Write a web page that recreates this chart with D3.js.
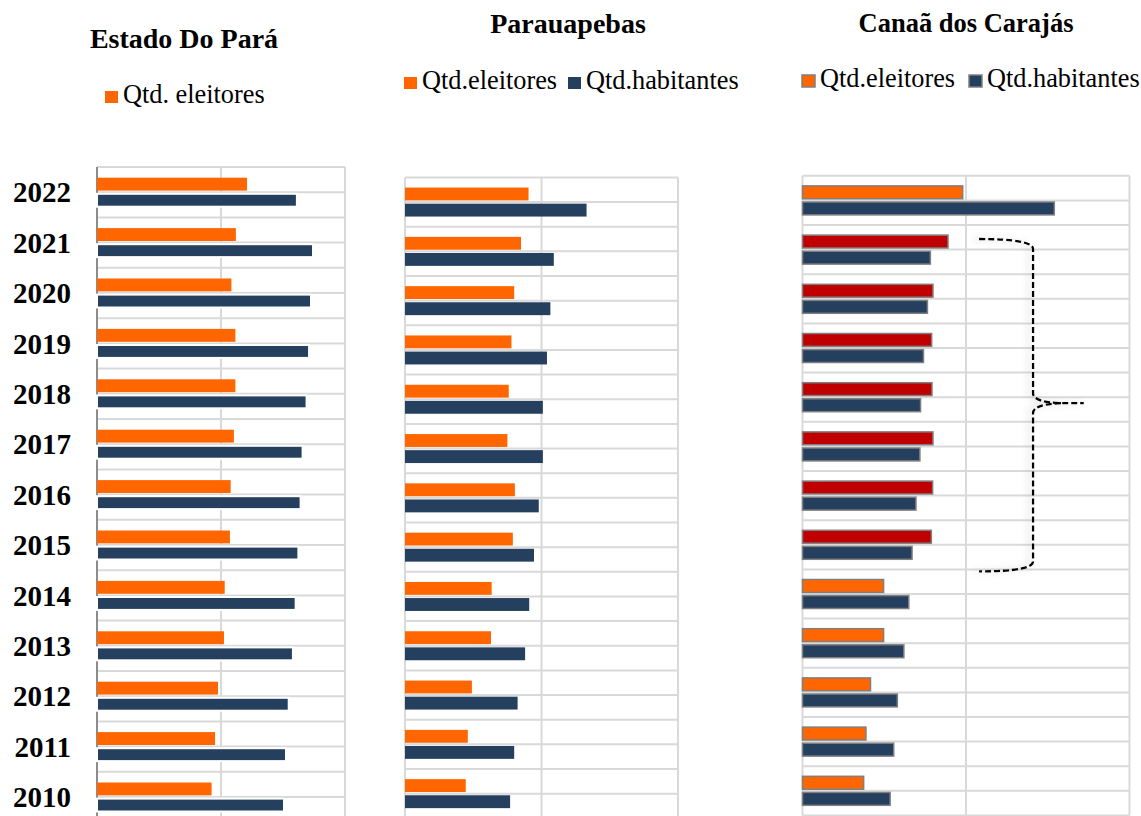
<!DOCTYPE html>
<html>
<head>
<meta charset="utf-8">
<script src="https://cdn.jsdelivr.net/npm/d3@7"></script>
<style>
  body { margin: 0; background: #fff; }
  svg { display: block; }
  text { font-family: "Liberation Serif", "Times New Roman", serif; fill: #000; }
</style>
</head>
<body>
<div id="chart"></div>
<script>
// Eleitores x habitantes, 2010-2022

const years = [2022, 2021, 2020, 2019, 2018, 2017, 2016, 2015, 2014, 2013, 2012, 2011, 2010];

// Estado do Pará (pessoas)
const paraEleitores  = [6050000, 5600000, 5420000, 5580000, 5580000, 5520000, 5390000, 5360000, 5150000, 5120000, 4880000, 4760000, 4620000];
const paraHabitantes = [8060000, 8710000, 8630000, 8550000, 8450000, 8290000, 8210000, 8120000, 8010000, 7900000, 7730000, 7620000, 7540000];

// Parauapebas
const parauapebasEleitores  = [181000, 170000, 160000, 156000, 152000, 150000, 161000, 158000, 127000, 126000, 98000, 92000, 89000];
const parauapebasHabitantes = [266000, 218000, 213000, 208000, 202000, 202000, 196000, 189000, 182000, 176000, 165000, 160000, 154000];

// Canaã dos Carajás
const canaaEleitores  = [49000, 44500, 39900, 39500, 39600, 39900, 39800, 39400, 24800, 24800, 20800, 19400, 18700];
const canaaHabitantes = [77000, 39100, 38200, 37000, 36100, 35900, 34700, 33500, 32500, 31000, 29000, 27900, 26800];

// anos destacados em vermelho (Canaã)
const highlightYears = [2021, 2020, 2019, 2018, 2017, 2016, 2015];

const series = ["eleitores", "habitantes"];
const ORANGE = "#ff6600", BLUE = "#253f5f", RED = "#c00000", GRID = "#d9d9d9";

const svg = d3.select("#chart").append("svg")
    .attr("width", 1141)
    .attr("height", 816);

const defs = svg.append("defs");
const shadow = defs.append("filter").attr("id", "soft").attr("x", "-50%").attr("y", "-10%").attr("width", "200%").attr("height", "120%");
shadow.append("feDropShadow")
    .attr("dx", -4).attr("dy", 0).attr("stdDeviation", 3)
    .attr("flood-color", "#888").attr("flood-opacity", 0.4);

const panels = [
    {
        title: "Estado Do Pará", titleX: 184, titleY: 48, titleSize: 28,
        legend: [{ label: "Qtd. eleitores", color: ORANGE, x: 105 }], legendY: 91,
        left: 97, right: 345, top: 167, rowH: 50.4, max: 10000000,
        elei: paraEleitores, hab: paraHabitantes,
        stroke: null, darkAxis: true
    },
    {
        title: "Parauapebas", titleX: 568, titleY: 33, titleSize: 28,
        legend: [{ label: "Qtd.eleitores", color: ORANGE, x: 404 }, { label: "Qtd.habitantes", color: BLUE, x: 568 }], legendY: 77,
        left: 405, right: 678, top: 177.4, rowH: 49.3, max: 400000,
        elei: parauapebasEleitores, hab: parauapebasHabitantes,
        stroke: null, darkAxis: false
    },
    {
        title: "Canaã dos Carajás", titleX: 966, titleY: 32, titleSize: 26.5,
        legend: [{ label: "Qtd.eleitores", color: ORANGE, x: 802 }, { label: "Qtd.habitantes", color: BLUE, x: 969 }], legendY: 75,
        left: 802.5, right: 1129.5, top: 175.8, rowH: 49.2, max: 100000,
        elei: canaaEleitores, hab: canaaHabitantes,
        stroke: "#7f7f7f", darkAxis: false, highlight: true
    }
];

panels.forEach((p, pi) => {
    const g = svg.append("g");

    const x = d3.scaleLinear().domain([0, p.max]).range([p.left, p.right]);
    const y = d3.scaleBand().domain(years).range([p.top, p.top + years.length * p.rowH]);
    const inner = d3.scaleBand().domain(series).range([-14.5, 14.5]).paddingInner(0.2);
    p.x = x; p.y = y;

    // grid
    const hLines = [];
    years.forEach(yr => { hLines.push(y(yr)); hLines.push(y(yr) + y.bandwidth() / 2); });
    hLines.push(y.range()[1]);
    g.selectAll("line.h").data(hLines).join("line")
        .attr("x1", p.left).attr("x2", p.right)
        .attr("y1", d => d).attr("y2", d => d)
        .attr("stroke", GRID).attr("stroke-width", 2);

    g.selectAll("line.v").data(x.ticks(2)).join("line")
        .attr("x1", d => x(d)).attr("x2", d => x(d))
        .attr("y1", p.top).attr("y2", y.range()[1])
        .attr("stroke", (d, i) => (i === 0 && p.darkAxis) ? "#8c8c8c" : GRID)
        .attr("stroke-width", 2);

    const rows = years.map((yr, i) => ({ year: yr, elei: p.elei[i], hab: p.hab[i] }));
    const cy = d => y(d.year) + y.bandwidth() / 2;

    // habitantes bars (panel 1 has no legend entry but shows the series)
    g.selectAll("rect.hab").data(rows).join("rect")
        .attr("x", x(0))
        .attr("y", d => cy(d) + inner("habitantes"))
        .attr("width", d => x(d.hab) - x(0))
        .attr("height", inner.bandwidth())
        .attr("fill", BLUE)
        .attr("stroke", p.stroke || (pi === 0 ? "#fff" : "none"))
        .attr("stroke-width", p.stroke ? 1.5 : 2);

    g.selectAll("rect.elei").data(rows).join("rect")
        .attr("x", x(0))
        .attr("y", d => cy(d) + inner("eleitores"))
        .attr("width", d => x(d.elei) - x(0))
        .attr("height", inner.bandwidth())
        .attr("fill", d => (p.highlight && highlightYears.includes(d.year)) ? RED : ORANGE)
        .attr("stroke", p.stroke || "none")
        .attr("stroke-width", 1.5);

    // title
    svg.append("text")
        .attr("x", p.titleX).attr("y", p.titleY)
        .attr("text-anchor", "middle")
        .style("font-size", p.titleSize + "px").style("font-weight", "bold")
        .text(p.title);

    // legend
    const lg = svg.append("g");
    p.legend.forEach(item => {
        lg.append("rect")
            .attr("x", item.x).attr("y", p.legendY)
            .attr("width", 13).attr("height", 12)
            .attr("fill", item.color)
            .attr("stroke", p.stroke || "none").attr("stroke-width", 1.5);
        lg.append("text")
            .attr("x", item.x + 18).attr("y", p.legendY + 12)
            .style("font-size", "26.3px")
            .text(item.label);
    });

    // year labels only on first panel
    if (pi === 0) {
        svg.selectAll("text.year").data(years).join("text")
            .attr("class", "year")
            .attr("x", 71)
            .attr("y", d => y(d) + y.bandwidth() / 2)
            .attr("dy", "0.35em")
            .attr("text-anchor", "end")
            .style("font-size", "29px").style("font-weight", "bold")
            .text(d => d);
    }
});

// chave tracejada marcando 2015-2021 em Canaã
const c = panels[2];
const bx0 = c.x(54000), bx1 = c.x(70500), tip = c.x(86000);
const bTop = c.y(2021) + 14;
const bBot = c.y(2015) + c.y.bandwidth() + 2;
const bMid = (bTop + bBot) / 2 - 2;
const brace = d3.path();
brace.moveTo(bx0, bTop);
brace.quadraticCurveTo(bx1, bTop, bx1, bTop + 10);
brace.lineTo(bx1, bMid - 10);
brace.quadraticCurveTo(bx1, bMid - 1, bx1 + 28, bMid);
brace.lineTo(tip, bMid);
brace.moveTo(bx1 + 28, bMid);
brace.quadraticCurveTo(bx1, bMid + 1, bx1, bMid + 10);
brace.lineTo(bx1, bBot - 10);
brace.quadraticCurveTo(bx1, bBot, bx0, bBot);

svg.append("path")
    .attr("d", brace.toString())
    .attr("fill", "none")
    .attr("stroke", "#000")
    .attr("stroke-width", 2.3)
    .attr("stroke-dasharray", "6,3")
    .attr("filter", "url(#soft)");
</script>
</body>
</html>
